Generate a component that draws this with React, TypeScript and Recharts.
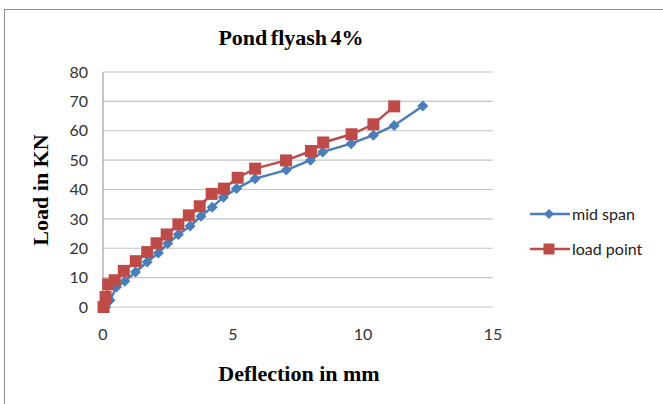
import React from 'react';
import {LineChart, Line, XAxis, YAxis, CartesianGrid} from 'recharts';

const midSpanX = [0.1, 0.27, 0.52, 0.84, 1.25, 1.7, 2.13, 2.49, 2.9, 3.35, 3.77, 4.2, 4.63, 5.14, 5.85, 7.05, 7.98, 8.45, 9.54, 10.4, 11.2, 12.3];
const midSpanY = [0, 2.3, 6.8, 8.8, 11.9, 15.3, 18.4, 21.6, 24.7, 27.6, 30.9, 34, 37.4, 40.3, 43.7, 46.6, 50, 52.8, 55.6, 58.5, 61.8, 68.4];
const loadPointX = [0.02, 0.1, 0.2, 0.45, 0.8, 1.26, 1.7, 2.06, 2.45, 2.9, 3.3, 3.72, 4.18, 4.65, 5.18, 5.85, 7.04, 8.0, 8.47, 9.56, 10.4, 11.2];
const loadPointY = [0, 3.4, 7.7, 9.1, 12.3, 15.6, 18.7, 21.7, 24.7, 28.1, 31.2, 34.3, 38.5, 40.3, 44, 47.1, 49.9, 53.1, 56, 58.8, 62.2, 68.3];
const xTicks = [0, 5, 10, 15];
const yTicks = [0, 10, 20, 30, 40, 50, 60, 70, 80];

const BLUE = '#4a7ebb';
const RED = '#be4b48';

const midSpan = midSpanX.map((x, i) => ({x, y: midSpanY[i]}));
const loadPoint = loadPointX.map((x, i) => ({x, y: loadPointY[i]}));

const Diamond = (props: any) => {
  const {cx, cy} = props;
  if (cx == null || cy == null) return null;
  return <path d={`M${cx},${cy - 5.5}L${cx + 5.5},${cy}L${cx},${cy + 5.5}L${cx - 5.5},${cy}Z`} fill={BLUE} />;
};

const Square = (props: any) => {
  const {cx, cy} = props;
  if (cx == null || cy == null) return null;
  return <rect x={cx - 6} y={cy - 6} width={12} height={12} fill={RED} />;
};

const legendItems = [
  {name: 'mid span', color: BLUE, shape: 'diamond'},
  {name: 'load point', color: RED, shape: 'square'},
];

const LegendBox = () => (
  <div style={{position: 'absolute', left: 529, top: 196, fontFamily: 'Lato, sans-serif', fontSize: 16, color: '#222'}}>
    {legendItems.map((it) => (
      <div key={it.name} style={{display: 'flex', alignItems: 'center', height: 35}}>
        <svg width={41} height={12} style={{marginRight: 2}}>
          <line x1={1} y1={6} x2={41} y2={6} stroke={it.color} strokeWidth={2.5} />
          {it.shape === 'diamond' ? (
            <path d="M20,1L25,6L20,11L15,6Z" fill={it.color} />
          ) : (
            <rect x={14.5} y={0.5} width={11} height={11} fill={it.color} />
          )}
        </svg>
        <span>{it.name}</span>
      </div>
    ))}
  </div>
);

const titleStyle: React.CSSProperties = {
  position: 'absolute',
  fontFamily: '"Liberation Serif", serif',
  fontWeight: 'bold',
  color: '#000',
  whiteSpace: 'nowrap',
  lineHeight: 1,
};

export default function App() {
  return (
    <div style={{position: 'absolute', left: 0, top: 0, width: 663, height: 404, overflow: 'hidden', background: '#fff'}}>
      <div style={{position: 'absolute', left: 4, top: 9, width: 700, height: 420, border: '1px solid #8c8c8c'}} />
      <div style={{position: 'absolute', left: 0, top: 0}}>
        <LineChart width={663} height={404} margin={{top: 72, right: 170, bottom: 37, left: 0}}>
          <CartesianGrid vertical={false} stroke='#c4c4c4' strokeWidth={1.2} />
          <XAxis
            type='number'
            dataKey='x'
            domain={[0, 15]}
            ticks={xTicks}
            axisLine={false}
            tickLine={false}
            tickSize={0}
            tickMargin={22}
            height={60}
            tick={{fill: '#333', fontSize: 16, fontFamily: 'Lato, sans-serif'}}
          />
          <YAxis
            type='number'
            dataKey='y'
            domain={[0, 80]}
            ticks={yTicks}
            width={103}
            axisLine={{stroke: '#8c8c8c'}}
            tickLine={false}
            tickSize={0}
            tickMargin={15}
            tick={{fill: '#333', fontSize: 16, fontFamily: 'Lato, sans-serif'}}
          />
          <Line
            data={midSpan}
            dataKey='y'
            name='mid span'
            stroke={BLUE}
            strokeWidth={2.5}
            dot={<Diamond />}
            activeDot={false}
            isAnimationActive={false}
          />
          <Line
            data={loadPoint}
            dataKey='y'
            name='load point'
            stroke={RED}
            strokeWidth={2.5}
            dot={<Square />}
            activeDot={false}
            isAnimationActive={false}
          />
        </LineChart>
      </div>
      <LegendBox />
      <div style={{...titleStyle, left: 291, top: 38, fontSize: 22, wordSpacing: -2, transform: 'translate(-50%, -50%)'}}>Pond flyash 4%</div>
      <div style={{...titleStyle, left: 299, top: 374, fontSize: 22, transform: 'translate(-50%, -50%)'}}>Deflection in mm</div>
      <div style={{...titleStyle, left: 41, top: 190, fontSize: 22, transform: 'translate(-50%, -50%) rotate(-90deg)'}}>Load in KN</div>
    </div>
  );
}
